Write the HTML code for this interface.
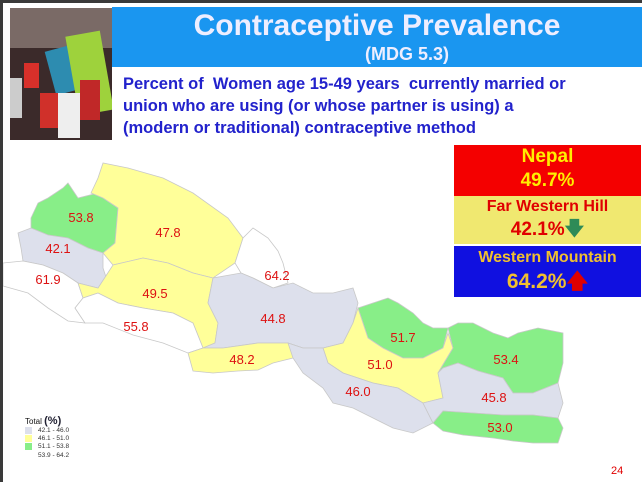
<!DOCTYPE html>
<html><head><meta charset="utf-8">
<style>
html,body{margin:0;padding:0;}
body{width:642px;height:482px;overflow:hidden;background:#3a3a3a;position:relative;font-family:"Liberation Sans",sans-serif;}
#slide{position:absolute;left:3px;top:3px;width:639px;height:479px;background:#fff;overflow:hidden;}
.abs{position:absolute;}
</style></head>
<body>
<div id="slide">
  <svg class="abs" style="left:7px;top:5px" width="102" height="132">
    <rect width="102" height="132" fill="#3b2a2a"/>
    <rect x="0" y="0" width="102" height="40" fill="#7a6a66"/>
    <rect x="40" y="40" width="25" height="45" fill="#2d8cb0" transform="rotate(-15 52 62)"/>
    <rect x="62" y="25" width="35" height="80" fill="#9ed23c" transform="rotate(-10 80 65)"/>
    <rect x="14" y="55" width="15" height="25" fill="#d8302a"/>
    <rect x="30" y="85" width="18" height="35" fill="#d0302a"/>
    <rect x="48" y="85" width="22" height="45" fill="#eee"/>
    <rect x="70" y="72" width="20" height="40" fill="#c02828"/>
    <rect x="0" y="70" width="12" height="40" fill="#ccc"/>
  </svg>
  <div class="abs" style="left:109px;top:4px;width:530px;height:60px;background:#1a96f0;"></div>
  <div class="abs" style="left:109px;top:5px;width:530px;text-align:center;color:#eef;font-weight:bold;font-size:30px;line-height:36px;">Contraceptive Prevalence</div>
  <div class="abs" style="left:109px;top:40px;width:530px;text-align:center;color:#eef;font-weight:bold;font-size:18px;line-height:22px;padding-left:60px;box-sizing:border-box">(MDG 5.3)</div>
  <div class="abs" style="left:120px;top:70px;width:520px;color:#2222cc;font-weight:bold;font-size:16.5px;line-height:22px;">Percent of &nbsp;Women age 15-49 years &nbsp;currently married or<br>union who are using (or whose partner is using) a<br>(modern or traditional) contraceptive method</div>

  <div class="abs" style="left:451px;top:142px;width:187px;height:51px;background:#f40000;text-align:center;color:#ffee00;font-weight:bold;font-size:19px;line-height:24px">Nepal<br>49.7%</div>
  <div class="abs" style="left:451px;top:193px;width:187px;height:48px;background:#f0e870;text-align:center;color:#e00000;font-weight:bold;"><div style="font-size:16px;line-height:22px">Far Western Hill</div><div style="font-size:19px;line-height:24px">42.1%<span style="color:#2e8b57">&#129095;</span></div></div>
  <div class="abs" style="left:451px;top:243px;width:187px;height:51px;background:#1010e0;text-align:center;color:#f0c030;font-weight:bold;"><div style="font-size:16px;line-height:23px">Western Mountain</div><div style="font-size:21px;line-height:26px">64.2%<span style="color:#e00000">&#129093;</span></div></div>

  <svg id="map" class="abs" style="left:0;top:0" width="639" height="479"></svg>

  <div class="abs" style="left:22px;top:412px;font-size:8px;color:#111">Total <span style="font-size:11px;font-weight:bold;color:#223">(%)</span></div>
  <div id="legend" class="abs" style="left:22px;top:424px;font-size:6.5px;color:#333;line-height:8px"></div>
  <div class="abs" style="left:608px;top:462px;font-size:11px;color:#e00000">24</div>
</div>
<script>
const regionNames=["fw-mountain","fw-hill","fw-terai","mw-mountain","mw-hill","mw-terai","w-mountain","w-hill","w-terai","c-mountain","c-hill","c-terai","e-mountain","e-hill","e-terai"];
const regionValues=[53.8,42.1,61.9,47.8,49.5,55.8,64.2,44.8,48.2,51.7,51.0,46.0,53.4,45.8,53.0];
const legendLabels=["42.1 - 46.0","46.1 - 51.0","51.1 - 53.8","53.9 - 64.2"];
const legendMax=[46.0,51.0,53.8,64.2];
const legendColors=["#dde0ec","#ffff99","#88ee88","#ffffff"];
// outline shapes (geometry) and label anchors, same order as regionNames
const shapes=[
 "28,215 35,200 45,195 60,185 65,180 75,195 95,190 100,195 115,205 112,240 100,250 85,245 65,235 45,232 28,225",
 "18,245 15,230 28,225 45,232 65,235 85,245 100,250 100,265 105,280 95,285 75,280 60,270 40,262 20,258",
 "0,260 20,258 40,262 60,270 75,280 80,295 72,305 82,320 65,318 45,305 25,290 0,283",
 "88,190 95,175 100,160 125,165 160,175 190,190 225,215 240,235 232,260 210,275 190,270 165,260 140,255 110,262 100,250 112,240 115,205 100,195",
 "75,280 95,285 110,262 140,255 165,260 190,270 210,275 205,300 215,320 212,340 200,345 190,320 170,310 140,305 115,300 95,290 80,295",
 "72,305 80,295 95,290 115,300 140,305 170,310 190,320 200,345 185,350 160,340 130,332 100,320 82,320",
 "232,260 240,235 250,225 265,235 275,248 280,260 285,280 270,285 250,275 238,270",
 "200,345 212,340 215,320 205,300 210,275 238,270 250,275 270,285 290,280 310,290 330,290 350,285 355,300 350,320 340,340 320,345 300,345 285,340 255,340 220,345",
 "185,350 200,345 220,345 255,340 285,340 300,345 290,355 270,360 255,367 235,368 210,370 190,368",
 "355,305 370,300 385,295 395,300 410,310 420,320 430,325 445,325 440,345 420,355 400,355 380,345 365,335",
 "320,345 340,340 350,320 355,305 365,335 380,345 400,355 420,355 440,345 445,330 450,345 435,370 440,395 420,400 395,385 370,380 340,370 325,360",
 "285,340 300,345 320,345 325,360 340,370 370,380 395,385 420,400 430,420 410,430 390,425 370,415 350,405 330,400 320,385 300,370 290,355",
 "445,325 455,320 470,320 490,330 505,335 515,330 535,325 560,330 560,360 555,380 530,390 510,390 500,375 475,368 455,360 440,365 435,370 450,345",
 "435,370 440,365 455,360 475,368 500,375 510,390 530,390 555,380 560,400 555,415 530,412 500,412 470,410 440,408 430,420 420,400 440,395",
 "430,420 440,408 470,410 500,412 530,412 555,415 560,425 555,440 530,440 510,438 490,435 460,432 440,428"
];
const anchors=[[78,219],[55,250],[45,281],[165,234],[152,295],[133,328],[274,277],[270,320],[239,361],[400,339],[377,366],[355,393],[503,361],[491,399],[497,429]];
function colorFor(v){for(let i=0;i<legendMax.length;i++){if(v<=legendMax[i]+1e-9)return legendColors[i];}return legendColors[legendColors.length-1];}
const NS="http://www.w3.org/2000/svg";
const map=document.getElementById('map');
for(let i=0;i<regionValues.length;i++){
  const p=document.createElementNS(NS,'polygon');
  p.setAttribute('points',shapes[i]);
  p.setAttribute('fill',colorFor(regionValues[i]));
  p.setAttribute('stroke','#c8c8c8');
  p.setAttribute('stroke-width','0.8');
  
  
  map.appendChild(p);
}
for(let i=0;i<regionValues.length;i++){
  const t=document.createElementNS(NS,'text');
  t.setAttribute('x',anchors[i][0]);t.setAttribute('y',anchors[i][1]);
  t.setAttribute('text-anchor','middle');t.setAttribute('font-size','13');
  t.setAttribute('fill','#dd1111');t.setAttribute('font-family','Liberation Sans, sans-serif');
  t.textContent=regionValues[i].toFixed(1);
  
  
  map.appendChild(t);
}
const lg=document.getElementById('legend');
for(let i=0;i<legendLabels.length;i++){
  const d=document.createElement('div');
  d.innerHTML='<span style="display:inline-block;width:7px;height:7px;margin-right:6px;vertical-align:middle;background:'+legendColors[i]+'"></span>'+legendLabels[i];
  
  
  lg.appendChild(d);
}
</script>
</body></html>
